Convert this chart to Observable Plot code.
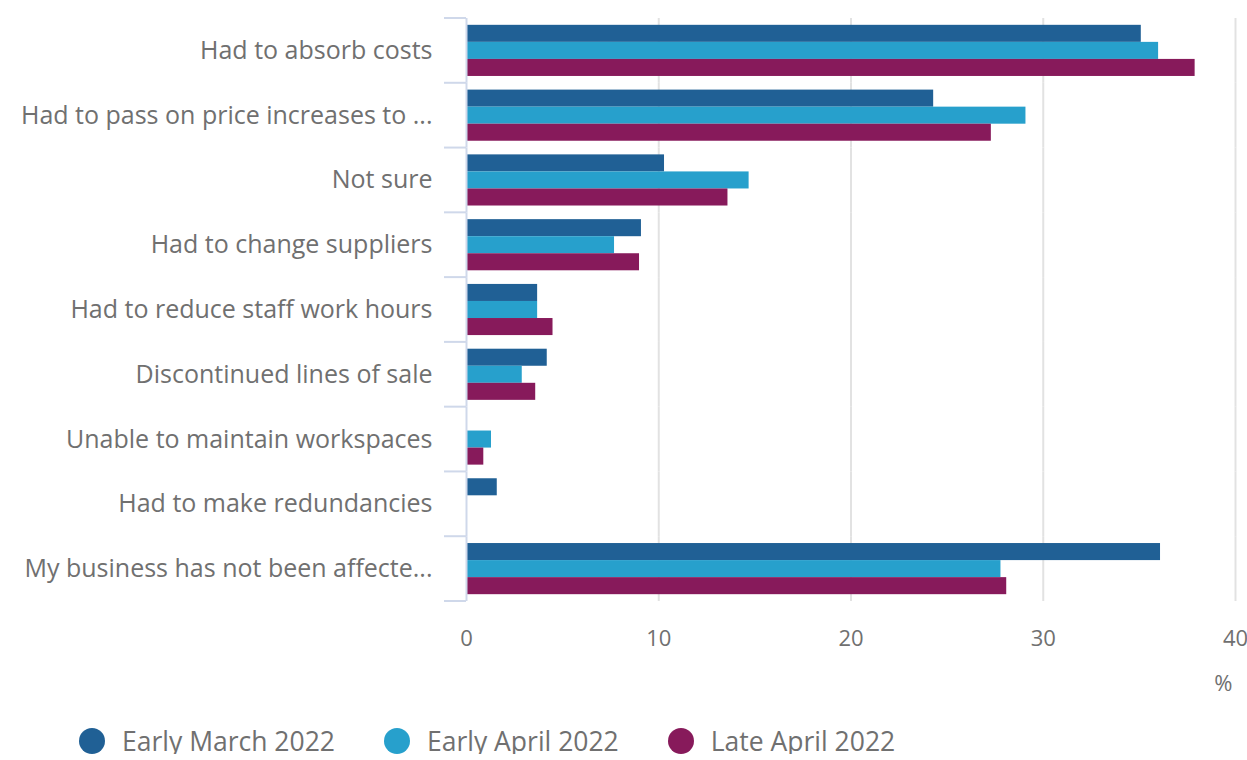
<!DOCTYPE html>
<html><head><meta charset="utf-8">
<script src="https://cdn.jsdelivr.net/npm/d3@7"></script>
<script src="https://cdn.jsdelivr.net/npm/@observablehq/plot@0.6"></script>
<style>
body{margin:0;background:#fff;font-family:"Open Sans",sans-serif;}
#legend{display:flex;align-items:center;margin-top:28px;padding-left:79px;font-size:26.5px;color:#707070;height:26px;line-height:1;}
.item{display:flex;align-items:center;margin-right:49px;}
.item span{line-height:1;}
.sw{width:26px;height:26px;border-radius:50%;margin-right:17px;}
</style></head><body><div id="chart"></div><div id="legend"></div>
<script>
const categories = [
  "Had to absorb costs",
  "Had to pass on price increases to ...",
  "Not sure",
  "Had to change suppliers",
  "Had to reduce staff work hours",
  "Discontinued lines of sale",
  "Unable to maintain workspaces",
  "Had to make redundancies",
  "My business has not been affecte..."
];
const seriesNames = ["Early March 2022", "Early April 2022", "Late April 2022"];
const earlyMarch = [35.1, 24.3, 10.3, 9.1, 3.7, 4.2, null, 1.6, 36.1];
const earlyApril = [36.0, 29.1, 14.7, 7.7, 3.7, 2.9, 1.3, null, 27.8];
const lateApril  = [37.9, 27.3, 13.6, 9.0, 4.5, 3.6, 0.9, null, 28.1];
const xTicks = [0, 10, 20, 30, 40];
const xUnit = "%";
const colors = ["#206095", "#27a0cc", "#871a5b"];

const rows = [];
categories.forEach((c, i) => {
  [earlyMarch, earlyApril, lateApril].forEach((arr, j) => {
    if (arr[i] != null) rows.push({category: c, series: seriesNames[j], value: arr[i]});
  });
});
const lastCat = categories[categories.length - 1];

const plot = Plot.plot({
  width: 1247, height: 700,
  marginLeft: 466, marginRight: 12, marginTop: 18, marginBottom: 99,
  style: {fontFamily: '"Open Sans", sans-serif', color: "#707070", background: "#fff", overflow: "visible"},
  x: {domain: [0, 40]},
  y: {domain: seriesNames, axis: null, paddingInner: 0, paddingOuter: 0.4, round: false},
  fy: {domain: categories, padding: 0, round: false},
  color: {domain: seriesNames, range: colors},
  marks: [
    Plot.gridX(xTicks.slice(1), {stroke: "#e2e2e2", strokeOpacity: 1, strokeWidth: 2}),
    Plot.barX(rows, {x: "value", y: "series", fy: "category", fill: "series"}),
    Plot.ruleX([0], {stroke: "#cfd8ea", strokeWidth: 2}),
    Plot.axisFy({anchor: "left", tickSize: 0, tickPadding: 34, fontSize: 25, label: null}),
    Plot.axisX(xTicks, {anchor: "bottom", tickSize: 0, tickPadding: 29, fontSize: 22, label: null}),
    Plot.text([xUnit], {text: d => d, fy: () => lastCat, frameAnchor: "bottom-right",
      textAnchor: "end", lineAnchor: "bottom", dy: 89, dx: -3, fontSize: 22, fill: "#707070"})
  ]
});

// boundary ticks between categories, from the fy band scale
const fy = plot.scale("fy");
const x0 = plot.scale("x").apply(0);
const edges = categories.map(c => fy.apply(c)).concat([fy.apply(lastCat) + fy.bandwidth]);
d3.select(plot).append("g")
  .selectAll("line").data(edges).join("line")
  .attr("x1", x0 - 22).attr("x2", x0)
  .attr("y1", d => d).attr("y2", d => d)
  .attr("stroke", "#cfd8ea").attr("stroke-width", 2);

document.getElementById("chart").append(plot);

const legend = d3.select("#legend");
seriesNames.forEach((s, i) => {
  const it = legend.append("div").attr("class", "item");
  it.append("div").attr("class", "sw").style("background", colors[i]);
  it.append("span").text(s);
});
</script></body></html>
